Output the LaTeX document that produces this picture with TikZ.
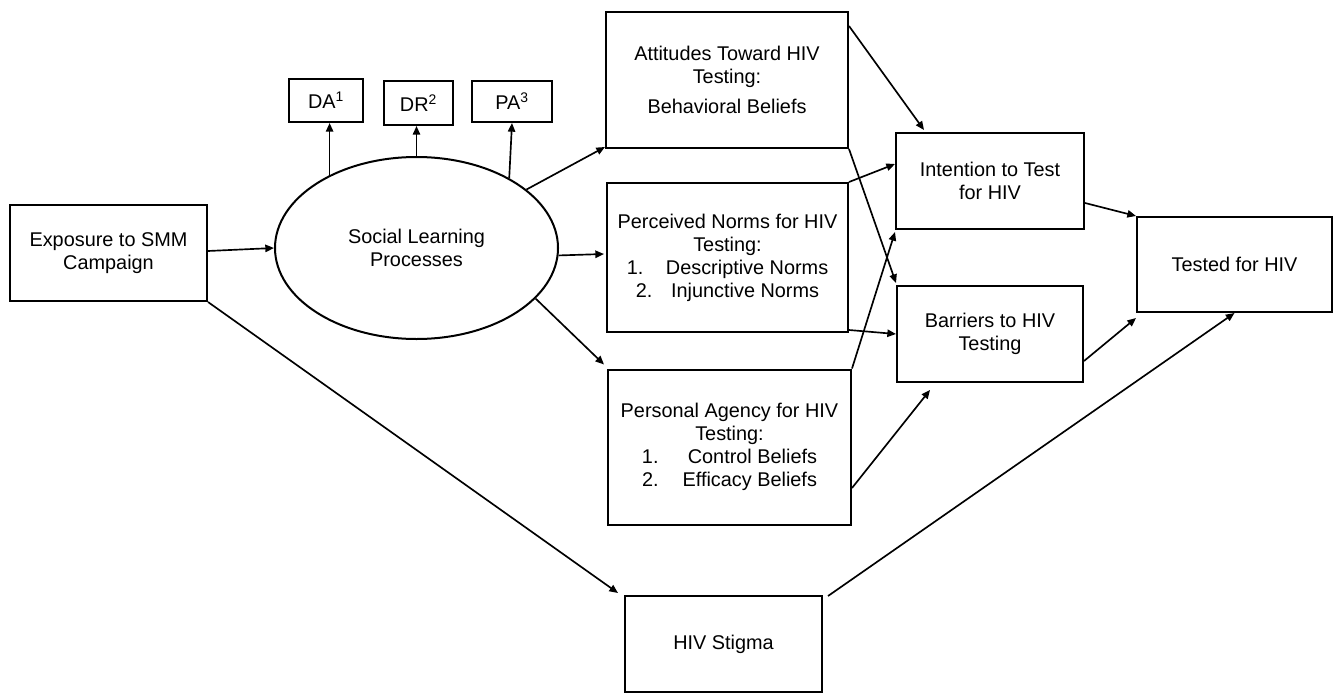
\documentclass[tikz,border=0pt]{standalone}
\usepackage{fontspec}
\setmainfont{Liberation Sans}
\usetikzlibrary{shapes.geometric,arrows.meta,calc}
\begin{document}
\begin{tikzpicture}[x=0.75pt,y=-0.75pt,
  txt/.style={font=\fontsize{14.9pt}{17.3pt}\selectfont},
  box/.style={draw,line width=1.5pt,inner sep=0pt,align=center,txt},
  sz/.style 2 args={minimum width=#1*0.75pt,minimum height=#2*0.75pt},
  link/.style={line width=1.25pt,-{Triangle[length=6.5pt,width=5.5pt]}},
]
\useasboundingbox (0,0) rectangle (1333,692);

% boxes
\node[box,sz={197}{96}] (exp) at (108.5,253) {Exposure to SMM\\Campaign};
\node[draw,line width=1.5pt,ellipse,inner sep=0pt,txt,align=center,sz={283}{182}] (slp) at (416.5,248) {Social Learning\\Processes};
\node[box,sz={74}{43}] (da) at (326,100.5) {DA\textsuperscript{1}};
\node[box,sz={69}{44}] (dr) at (418.5,103) {DR\textsuperscript{2}};
\node[box,sz={80}{41}] (pa) at (512,101.5) {PA\textsuperscript{3}};
\node[box,sz={242}{136}] (att) at (727,80) {Attitudes Toward HIV\\Testing:\\[5pt]Behavioral Beliefs};
\node[box,sz={241}{149}] (pn) at (727.5,257.5) {Perceived Norms for HIV\\Testing:\\1.\hspace{17pt}Descriptive Norms\\2.\hspace{14pt}Injunctive Norms};
\node[box,sz={243}{155}] (pag) at (729.5,447) {Personal Agency for HIV\\Testing:\\1.\hspace{22pt}Control Beliefs\\2.\hspace{18pt}Efficacy Beliefs};
\node[box,sz={188}{96}] (int) at (990,181) {Intention to Test\\for HIV};
\node[box,sz={186}{96}] (bar) at (990,334) {Barriers to HIV\\Testing};
\node[box,sz={195}{95}] (tst) at (1234.5,264.5) {Tested for HIV};
\node[box,sz={197}{96}] (stg) at (723.5,644) {HIV Stigma};

% social learning indicators
\draw[link] (slp.140) -- (slp.140 |- da.south);
\draw[link] (slp.north) -- (slp.north |- dr.south);
\draw[link] (slp.37) -- (pa.south);

% paths
\draw[link] ($(exp.east)+(0,-2)$) -- (slp.west);
\draw[link] (slp.28.5) -- ($(att.south west)+(0,-2)$);
\draw[link] (slp.-3) -- ($(pn.west)+(-2,-3.5)$);
\draw[link] (slp.-23.5) -- ($(pag.north west)+(-3,-4)$);
\draw[link] (exp.south east) -- ($(stg.north west)+(-6,-2)$);

\draw[link] ($(att.north east)+(0,15)$) -- ($(int.north west)+(29,-2)$);
\draw[link] (att.south east) -- ($(bar.north west)+(0,-2)$);
\draw[link] (pn.north east) -- ($(int.west)+(0,-17)$);
\draw[link] ($(pn.south east)+(0,-3)$) -- (bar.west);
\draw[link] (pag.north east) -- ($(int.south west)+(0,2)$);
\draw[link] ($(pag.east)+(0,41)$) -- ($(bar.south west)+(34,7)$);

\draw[link] ($(int.east)+(0,22)$) -- (tst.north west);
\draw[link] ($(bar.east)+(0,27)$) -- ($(tst.south west)+(0,5)$);
\draw[link] ($(stg.north east)+(5,1)$) -- (tst.south);
\end{tikzpicture}
\end{document}
